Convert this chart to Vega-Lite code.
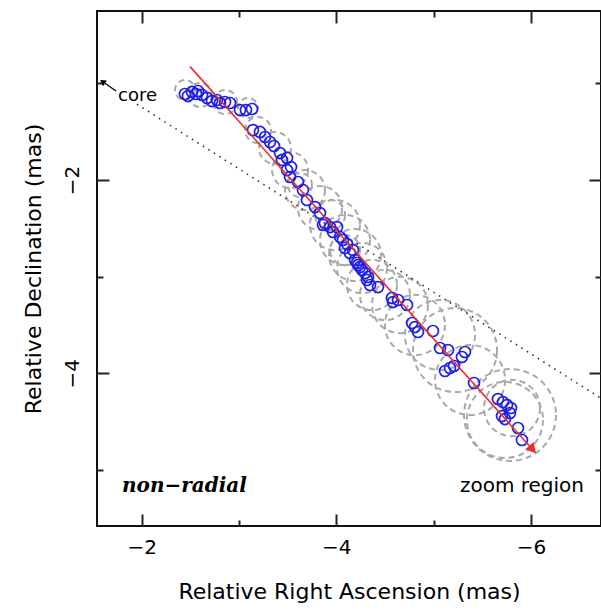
{
  "$schema": "https://vega.github.io/schema/vega-lite/v6.json",
  "width": 504,
  "height": 515,
  "autosize": "none",
  "padding": {"left": 97, "top": 11, "right": 0, "bottom": 86},
  "background": "white",
  "config": {"view": {"stroke": "#111111", "strokeWidth": 2}},
  "datasets": {
    "blobs": [
      {"ra": -2.444, "dec": -1.068, "fwhm": 0.206},
      {"ra": -2.599, "dec": -1.119, "fwhm": 0.247},
      {"ra": -2.856, "dec": -1.192, "fwhm": 0.247},
      {"ra": -3.092, "dec": -1.254, "fwhm": 0.206},
      {"ra": -3.195, "dec": -1.482, "fwhm": 0.268},
      {"ra": -3.369, "dec": -1.668, "fwhm": 0.330},
      {"ra": -3.524, "dec": -1.896, "fwhm": 0.371},
      {"ra": -3.626, "dec": -2.051, "fwhm": 0.247},
      {"ra": -3.678, "dec": -2.103, "fwhm": 0.412},
      {"ra": -3.832, "dec": -2.289, "fwhm": 0.454},
      {"ra": -3.935, "dec": -2.361, "fwhm": 0.309},
      {"ra": -3.986, "dec": -2.465, "fwhm": 0.515},
      {"ra": -4.089, "dec": -2.620, "fwhm": 0.515},
      {"ra": -4.089, "dec": -2.724, "fwhm": 0.309},
      {"ra": -4.192, "dec": -2.775, "fwhm": 0.536},
      {"ra": -4.264, "dec": -2.910, "fwhm": 0.515},
      {"ra": -4.366, "dec": -3.086, "fwhm": 0.515},
      {"ra": -4.500, "dec": -3.189, "fwhm": 0.515},
      {"ra": -4.654, "dec": -3.293, "fwhm": 0.577},
      {"ra": -4.808, "dec": -3.500, "fwhm": 0.619},
      {"ra": -5.065, "dec": -3.603, "fwhm": 0.722},
      {"ra": -5.220, "dec": -3.759, "fwhm": 0.866},
      {"ra": -5.374, "dec": -4.069, "fwhm": 0.722},
      {"ra": -5.785, "dec": -4.431, "fwhm": 0.948},
      {"ra": -5.733, "dec": -4.483, "fwhm": 0.784},
      {"ra": -5.805, "dec": -4.359, "fwhm": 0.577}
    ],
    "comps": [
      {"ra": -2.444, "dec": -1.109}, {"ra": -2.475, "dec": -1.130}, {"ra": -2.516, "dec": -1.088},
      {"ra": -2.558, "dec": -1.109}, {"ra": -2.578, "dec": -1.078}, {"ra": -2.619, "dec": -1.119},
      {"ra": -2.671, "dec": -1.150}, {"ra": -2.722, "dec": -1.182}, {"ra": -2.773, "dec": -1.171},
      {"ra": -2.804, "dec": -1.202}, {"ra": -2.856, "dec": -1.192}, {"ra": -2.907, "dec": -1.202},
      {"ra": -3.010, "dec": -1.275}, {"ra": -3.071, "dec": -1.275}, {"ra": -3.133, "dec": -1.264},
      {"ra": -3.143, "dec": -1.482}, {"ra": -3.215, "dec": -1.502}, {"ra": -3.267, "dec": -1.554},
      {"ra": -3.318, "dec": -1.606}, {"ra": -3.359, "dec": -1.647}, {"ra": -3.421, "dec": -1.720},
      {"ra": -3.441, "dec": -1.792}, {"ra": -3.493, "dec": -1.771}, {"ra": -3.493, "dec": -1.896},
      {"ra": -3.534, "dec": -1.865}, {"ra": -3.524, "dec": -1.968}, {"ra": -3.606, "dec": -2.020},
      {"ra": -3.657, "dec": -2.103}, {"ra": -3.698, "dec": -2.206}, {"ra": -3.781, "dec": -2.279},
      {"ra": -3.832, "dec": -2.341}, {"ra": -3.863, "dec": -2.465}, {"ra": -3.883, "dec": -2.444},
      {"ra": -3.935, "dec": -2.486}, {"ra": -3.966, "dec": -2.537}, {"ra": -4.007, "dec": -2.486},
      {"ra": -4.038, "dec": -2.589}, {"ra": -4.068, "dec": -2.620}, {"ra": -4.089, "dec": -2.703},
      {"ra": -4.110, "dec": -2.662}, {"ra": -4.140, "dec": -2.755}, {"ra": -4.171, "dec": -2.724},
      {"ra": -4.192, "dec": -2.827}, {"ra": -4.212, "dec": -2.858}, {"ra": -4.223, "dec": -2.879},
      {"ra": -4.243, "dec": -2.900}, {"ra": -4.264, "dec": -2.931}, {"ra": -4.295, "dec": -2.962},
      {"ra": -4.325, "dec": -3.003}, {"ra": -4.315, "dec": -3.034}, {"ra": -4.346, "dec": -3.086},
      {"ra": -4.428, "dec": -3.107}, {"ra": -4.572, "dec": -3.220}, {"ra": -4.634, "dec": -3.241},
      {"ra": -4.582, "dec": -3.262}, {"ra": -4.726, "dec": -3.293}, {"ra": -4.778, "dec": -3.479},
      {"ra": -4.808, "dec": -3.521}, {"ra": -4.839, "dec": -3.572}, {"ra": -4.993, "dec": -3.562},
      {"ra": -5.065, "dec": -3.738}, {"ra": -5.148, "dec": -3.759}, {"ra": -5.291, "dec": -3.831},
      {"ra": -5.322, "dec": -3.779}, {"ra": -5.117, "dec": -3.976}, {"ra": -5.168, "dec": -3.945},
      {"ra": -5.209, "dec": -3.924}, {"ra": -5.415, "dec": -4.100}, {"ra": -5.661, "dec": -4.266},
      {"ra": -5.713, "dec": -4.297}, {"ra": -5.754, "dec": -4.328}, {"ra": -5.795, "dec": -4.359},
      {"ra": -5.785, "dec": -4.411}, {"ra": -5.733, "dec": -4.473}, {"ra": -5.703, "dec": -4.442},
      {"ra": -5.867, "dec": -4.566}, {"ra": -5.908, "dec": -4.690}
    ],
    "jetaxis": [
      {"ra": -2.496, "dec": -0.826},
      {"ra": -6.040, "dec": -4.815}
    ],
    "arrowhead": [
      {"ra": -6.018, "dec": -4.788}
    ],
    "coreline": [
      {"ra": -1.951, "dec": -1.215},
      {"ra": -6.72, "dec": -4.258}
    ],
    "corearrow": [
      {"ra": -1.735, "dec": -1.078},
      {"ra": -1.585, "dec": -0.973}
    ],
    "corehead": [
      {"ra": -1.597, "dec": -0.982}
    ],
    "coretext": [{"ra": -1.756, "dec": -1.130, "label": "core"}],
    "nrtext": [{"ra": -1.797, "dec": -5.166, "label": "non−radial"}],
    "zoomtext": [{"ra": -6.545, "dec": -5.166, "label": "zoom region"}]
  },
  "resolve": {"axis": {"x": "independent", "y": "independent"}},
  "layer": [
    {
      "encoding": {
        "x": {
          "field": "ra", "type": "quantitative",
          "scale": {"domain": [-6.72, -1.54], "reverse": true, "nice": false, "zero": false},
          "axis": {
            "orient": "bottom", "values": [-2, -4, -6], "grid": false, "domain": false,
            "offset": -12, "ticks": true, "tickSize": 12, "tickColor": "#222222", "tickWidth": 2,
            "labelFont": "DejaVu Sans", "labelFontSize": 20, "labelColor": "black", "labelPadding": 11,
            "title": "Relative Right Ascension (mas)", "titleFont": "DejaVu Sans", "titleFontSize": 22,
            "titleFontWeight": "normal", "titleColor": "black", "titlePadding": 24
          }
        },
        "y": {
          "field": "dec", "type": "quantitative",
          "scale": {"domain": [-5.58, -0.25], "nice": false, "zero": false},
          "axis": {
            "orient": "left", "values": [-2, -4], "grid": false, "domain": false,
            "offset": -12, "ticks": true, "tickSize": 12, "tickColor": "#222222", "tickWidth": 2,
            "labelAngle": -90, "labelAlign": "center", "labelBaseline": "bottom",
            "labelFont": "DejaVu Sans", "labelFontSize": 20, "labelColor": "black", "labelPadding": 15,
            "title": "Relative Declination (mas)", "titleFont": "DejaVu Sans", "titleFontSize": 22,
            "titleFontWeight": "normal", "titleColor": "black", "titlePadding": 17
          }
        }
      },
      "layer": [
        {
          "data": {"name": "blobs"},
          "mark": {"type": "point", "shape": "circle", "filled": false, "stroke": "#a9a9a9", "strokeWidth": 2, "strokeDash": [6, 4], "opacity": 1, "clip": true},
          "encoding": {
            "size": {"field": "fwhm", "type": "quantitative", "legend": null,
              "scale": {"type": "pow", "exponent": 2, "domain": [0, 1], "range": [0, 9409]}}
          }
        },
        {
          "data": {"name": "coreline"},
          "mark": {"type": "line", "color": "#333333", "strokeWidth": 1.6, "strokeDash": [1.5, 5], "clip": true},
          "encoding": {}
        },
        {
          "data": {"name": "comps"},
          "mark": {"type": "point", "shape": "circle", "filled": false, "stroke": "#1f1fe6", "strokeWidth": 1.7, "size": 121, "opacity": 1}
        },
        {
          "data": {"name": "jetaxis"},
          "mark": {"type": "line", "color": "#e8302a", "strokeWidth": 1.6},
          "encoding": {}
        },
        {
          "data": {"name": "arrowhead"},
          "mark": {"type": "point", "shape": "triangle-up", "filled": true, "color": "#e8302a", "size": 130, "angle": 138, "opacity": 1}
        },
        {
          "data": {"name": "corearrow"},
          "mark": {"type": "line", "color": "black", "strokeWidth": 1.2},
          "encoding": {}
        },
        {
          "data": {"name": "corehead"},
          "mark": {"type": "point", "shape": "triangle-up", "filled": true, "color": "black", "size": 45, "angle": 304, "opacity": 1}
        },
        {
          "data": {"name": "coretext"},
          "mark": {"type": "text", "align": "left", "baseline": "middle", "font": "DejaVu Sans", "fontSize": 18, "color": "black"},
          "encoding": {"text": {"field": "label"}}
        },
        {
          "data": {"name": "nrtext"},
          "mark": {"type": "text", "align": "left", "baseline": "middle", "font": "DejaVu Serif", "fontSize": 20, "fontStyle": "italic", "fontWeight": "bold", "color": "black"},
          "encoding": {"text": {"field": "label"}}
        },
        {
          "data": {"name": "zoomtext"},
          "mark": {"type": "text", "align": "right", "baseline": "middle", "font": "DejaVu Sans", "fontSize": 20, "color": "black"},
          "encoding": {"text": {"field": "label"}}
        }
      ]
    },
    {
      "data": {"name": "arrowhead"},
      "mark": {"type": "point", "opacity": 0},
      "encoding": {
        "x": {
          "field": "ra", "type": "quantitative",
          "scale": {"domain": [-6.72, -1.54], "reverse": true, "nice": false, "zero": false},
          "axis": {"orient": "top", "values": [-2, -4, -6], "grid": false, "labels": false, "title": null, "domain": false,
            "offset": -12, "ticks": true, "tickSize": 12, "tickColor": "#222222", "tickWidth": 2}
        },
        "y": {
          "field": "dec", "type": "quantitative",
          "scale": {"domain": [-5.58, -0.25], "nice": false, "zero": false},
          "axis": {"orient": "right", "values": [-2, -4], "grid": false, "labels": false, "title": null, "domain": false,
            "offset": -12, "ticks": true, "tickSize": 12, "tickColor": "#222222", "tickWidth": 2}
        }
      }
    },
    {
      "data": {"name": "arrowhead"},
      "mark": {"type": "point", "opacity": 0},
      "encoding": {
        "x": {
          "field": "ra", "type": "quantitative",
          "scale": {"domain": [-6.72, -1.54], "reverse": true, "nice": false, "zero": false},
          "axis": {"orient": "bottom", "values": [-3, -5], "grid": false, "labels": false, "title": null, "domain": false,
            "offset": -6, "ticks": true, "tickSize": 6, "tickColor": "#222222", "tickWidth": 2}
        },
        "y": {
          "field": "dec", "type": "quantitative",
          "scale": {"domain": [-5.58, -0.25], "nice": false, "zero": false},
          "axis": {"orient": "left", "values": [-1, -3, -5], "grid": false, "labels": false, "title": null, "domain": false,
            "offset": -6, "ticks": true, "tickSize": 6, "tickColor": "#222222", "tickWidth": 2}
        }
      }
    },
    {
      "data": {"name": "arrowhead"},
      "mark": {"type": "point", "opacity": 0},
      "encoding": {
        "x": {
          "field": "ra", "type": "quantitative",
          "scale": {"domain": [-6.72, -1.54], "reverse": true, "nice": false, "zero": false},
          "axis": {"orient": "top", "values": [-3, -5], "grid": false, "labels": false, "title": null, "domain": false,
            "offset": -6, "ticks": true, "tickSize": 6, "tickColor": "#222222", "tickWidth": 2}
        },
        "y": {
          "field": "dec", "type": "quantitative",
          "scale": {"domain": [-5.58, -0.25], "nice": false, "zero": false},
          "axis": {"orient": "right", "values": [-1, -3, -5], "grid": false, "labels": false, "title": null, "domain": false,
            "offset": -6, "ticks": true, "tickSize": 6, "tickColor": "#222222", "tickWidth": 2}
        }
      }
    }
  ]
}
